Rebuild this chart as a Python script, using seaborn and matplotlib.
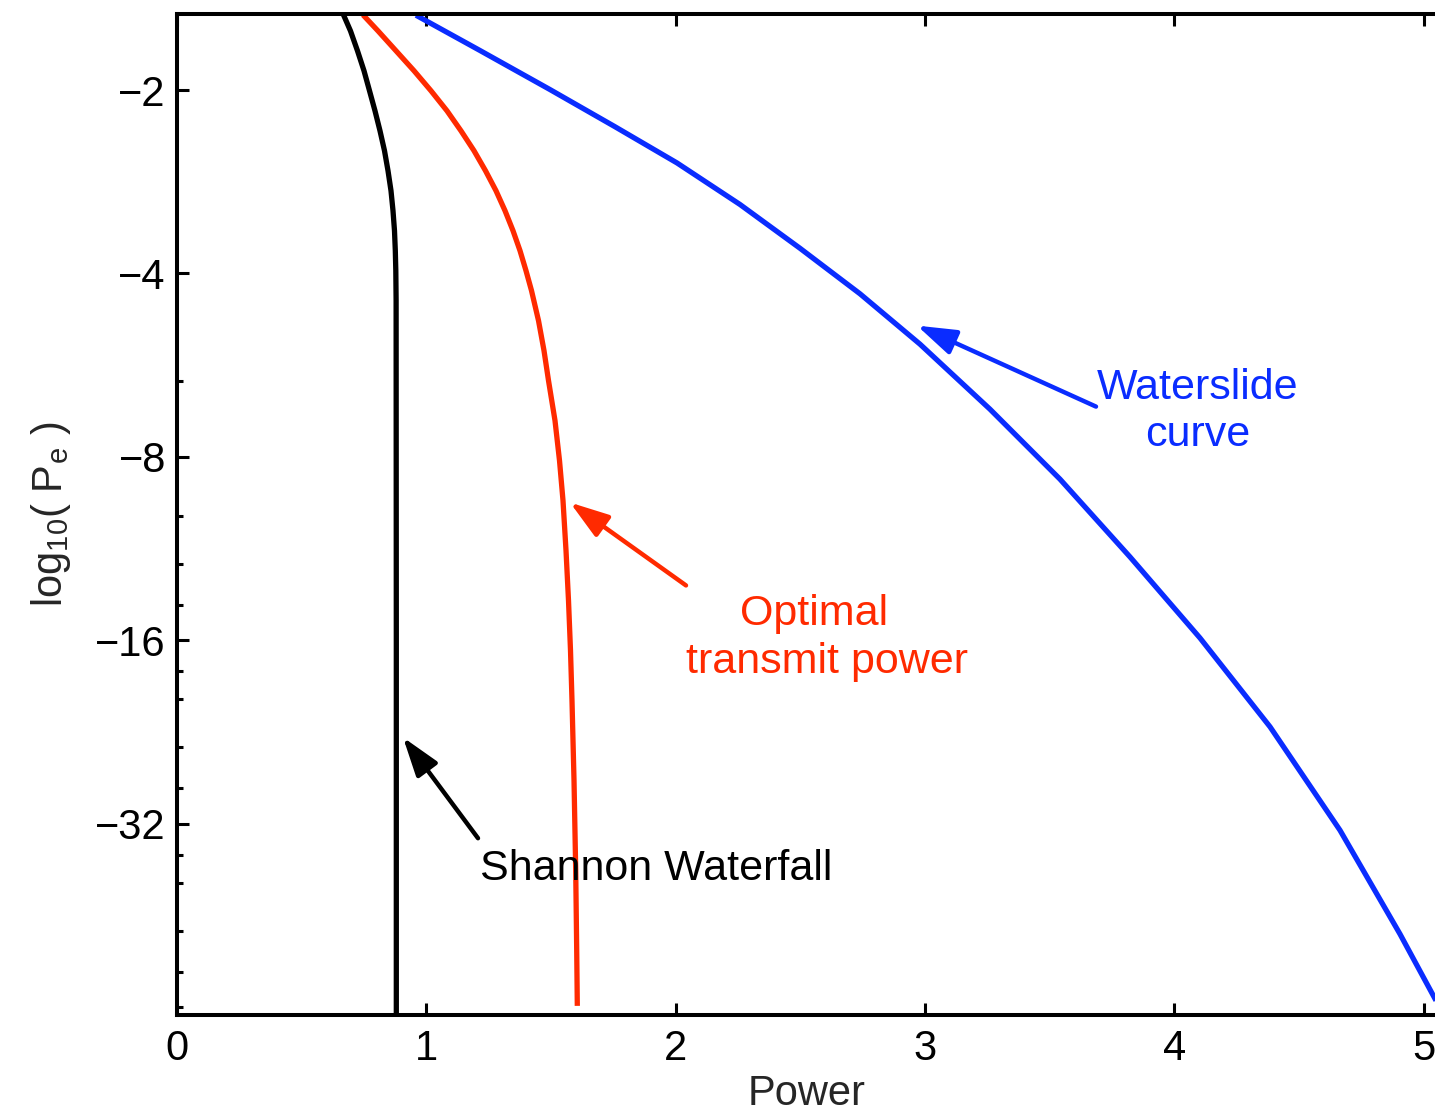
import numpy as np
import pandas as pd
import seaborn as sns
import matplotlib
matplotlib.use("Agg")
import matplotlib.pyplot as plt
from matplotlib.ticker import FixedLocator, FuncFormatter

# Transmit power vs. log10 of the bit-error probability
shannon_power = [0.6679, 0.6959, 0.7240, 0.7501, 0.7722, 0.7942, 0.8143, 0.8323, 0.8464,
                 0.8584, 0.8664, 0.8724, 0.8757, 0.8777, 0.8789, 0.8797, 0.8797]
shannon_logpe = [-1.505, -1.599, -1.724, -1.859, -2.005, -2.163, -2.333, -2.515, -2.713,
                 -2.926, -3.155, -3.403, -3.670, -3.958, -4.433, -16.0, -66.0]

optimal_power = [0.7461, 0.8063, 0.8785, 0.9507, 1.0188, 1.0830, 1.1392, 1.1913, 1.2375,
                 1.2796, 1.3157, 1.3478, 1.3759, 1.3999, 1.4220, 1.4501, 1.4721, 1.4902,
                 1.5162, 1.5343, 1.5483, 1.5604, 1.5704, 1.5784, 1.5844, 1.5925, 1.5993,
                 1.6033, 1.6057]
optimal_logpe = [-1.505, -1.599, -1.724, -1.859, -2.005, -2.163, -2.333, -2.515, -2.713,
                 -2.926, -3.155, -3.403, -3.670, -3.958, -4.268, -4.781, -5.354, -5.997,
                 -6.975, -8.113, -9.436, -11.40, -13.77, -16.63, -20.09, -27.17, -38.17,
                 -51.61, -63.76]

waterslide_power = [0.9587, 1.2154, 1.4962, 1.7569, 2.0056, 2.2583, 2.4990, 2.7397, 2.9803,
                    3.2611, 3.5419, 3.8227, 4.1035, 4.3843, 4.6651, 4.9057, 5.0501, 5.1063]
waterslide_logpe = [-1.507, -1.722, -1.996, -2.297, -2.634, -3.082, -3.637, -4.320, -5.226,
                    -6.683, -8.706, -11.68, -15.87, -22.20, -32.83, -48.60, -62.50, -69.08]

x_ticks = [0, 1, 2, 3, 4, 5]
y_ticks = [-32, -16, -8, -4, -2]
y_minor = [-6, -10, -12, -14, -18, -20, -24, -28, -36, -40, -48, -56, -64]

BLACK = "#000000"
RED = "#ff2a00"
BLUE = "#0a2cff"

sns.set_style("ticks")
plt.rcParams["font.family"] = ["Liberation Sans", "DejaVu Sans"]
plt.rcParams["mathtext.fontset"] = "custom"
plt.rcParams["mathtext.rm"] = "Liberation Sans"
plt.rcParams["mathtext.it"] = "Liberation Sans"
plt.rcParams["axes.unicode_minus"] = True
plt.rcParams["savefig.bbox"] = None
plt.rcParams["figure.autolayout"] = False
plt.rcParams["figure.constrained_layout.use"] = False

FS = 30
FS_NOTE = 31

W_PX, H_PX = 1435, 1115
AX_L, AX_R, AX_T, AX_B = 177, 1448, 14, 1015
PX_PER_UNIT = 249.3

fig = plt.figure(figsize=(W_PX / 100, H_PX / 100), dpi=100)
ax = fig.add_axes([AX_L / W_PX, (H_PX - AX_B) / H_PX,
                   (AX_R - AX_L) / W_PX, (AX_B - AX_T) / H_PX])

curves = [
    (shannon_power, shannon_logpe, BLACK),
    (optimal_power, optimal_logpe, RED),
    (waterslide_power, waterslide_logpe, BLUE),
]
for pw, pe, col in curves:
    df = pd.DataFrame({"power": pw, "logpe": pe})
    sns.lineplot(data=df, x="power", y="logpe", ax=ax, color=col, lw=3.8,
                 sort=False, estimator=None, legend=False)
for ln in ax.get_lines():
    ln.set_solid_joinstyle("round")
    ln.set_solid_capstyle("butt")


# doubling-spaced axis for the (negative) log-error values
def fwd(y):
    y = np.asarray(y, dtype=float)
    return -np.log2(np.clip(-y, 1e-12, None))


def inv(u):
    u = np.asarray(u, dtype=float)
    return -np.power(2.0, -u)


ax.set_yscale("function", functions=(fwd, inv))
ax.set_xlim(0, (AX_R - AX_L) / PX_PER_UNIT)
ax.set_ylim(-66, -1.5)

ax.xaxis.set_major_locator(FixedLocator(x_ticks))
ax.yaxis.set_major_locator(FixedLocator(y_ticks))
ax.yaxis.set_minor_locator(FixedLocator(y_minor))
ax.yaxis.set_major_formatter(FuncFormatter(lambda v, p: "\u2212%d" % abs(round(v))))
ax.yaxis.set_minor_formatter(FuncFormatter(lambda v, p: ""))

ax.tick_params(axis="both", which="both", direction="in", top=True, right=True,
               labelsize=FS, colors="black")
ax.tick_params(axis="both", which="major", length=8.5, width=2.2)
ax.tick_params(axis="y", which="minor", length=4.3, width=2.2)
ax.tick_params(axis="x", which="minor", length=0)
ax.tick_params(axis="x", which="major", pad=10)
ax.tick_params(axis="y", which="major", pad=8)

for s in ax.spines.values():
    s.set_linewidth(2.9)
    s.set_color("black")
    s.set_visible(True)

ax.set_xlabel("Power", fontsize=FS, labelpad=4)
ax.xaxis.label.set_x((807 - AX_L) / (AX_R - AX_L))
ax.set_ylabel(r"log$_{\mathregular{10}}$( P$_{\mathregular{e}}$ )", fontsize=FS, labelpad=16)

# annotation arrows: (tip, tail, colour)
arrows = [
    ((0.9065, -23.1), (1.2074, -33.83), BLACK),
    ((1.5764, -9.51), (2.0417, -13.01), RED),
    ((2.9683, -4.872), (3.6863, -6.617), BLUE),
]
for tip, tail, col in arrows:
    ax.annotate("", xy=tip, xytext=tail,
                arrowprops=dict(arrowstyle="-|>,head_length=0.85,head_width=0.28",
                                color=col, lw=3.2, mutation_scale=28,
                                shrinkA=0, shrinkB=0))

ax.text(1.2154, -39.63, "Shannon Waterfall", color=BLACK, fontsize=FS_NOTE,
        ha="left", va="baseline")
ax.text(2.5551, -15.13, "Optimal", color=RED, fontsize=FS_NOTE, ha="center", va="baseline")
ax.text(2.6053, -18.14, "transmit power", color=RED, fontsize=FS_NOTE, ha="center", va="baseline")
ax.text(4.0955, -6.418, "Waterslide", color=BLUE, fontsize=FS_NOTE, ha="center", va="baseline")
ax.text(4.0955, -7.68, "curve", color=BLUE, fontsize=FS_NOTE, ha="center", va="baseline")

fig.savefig("out.png", dpi=100, bbox_inches=None)
